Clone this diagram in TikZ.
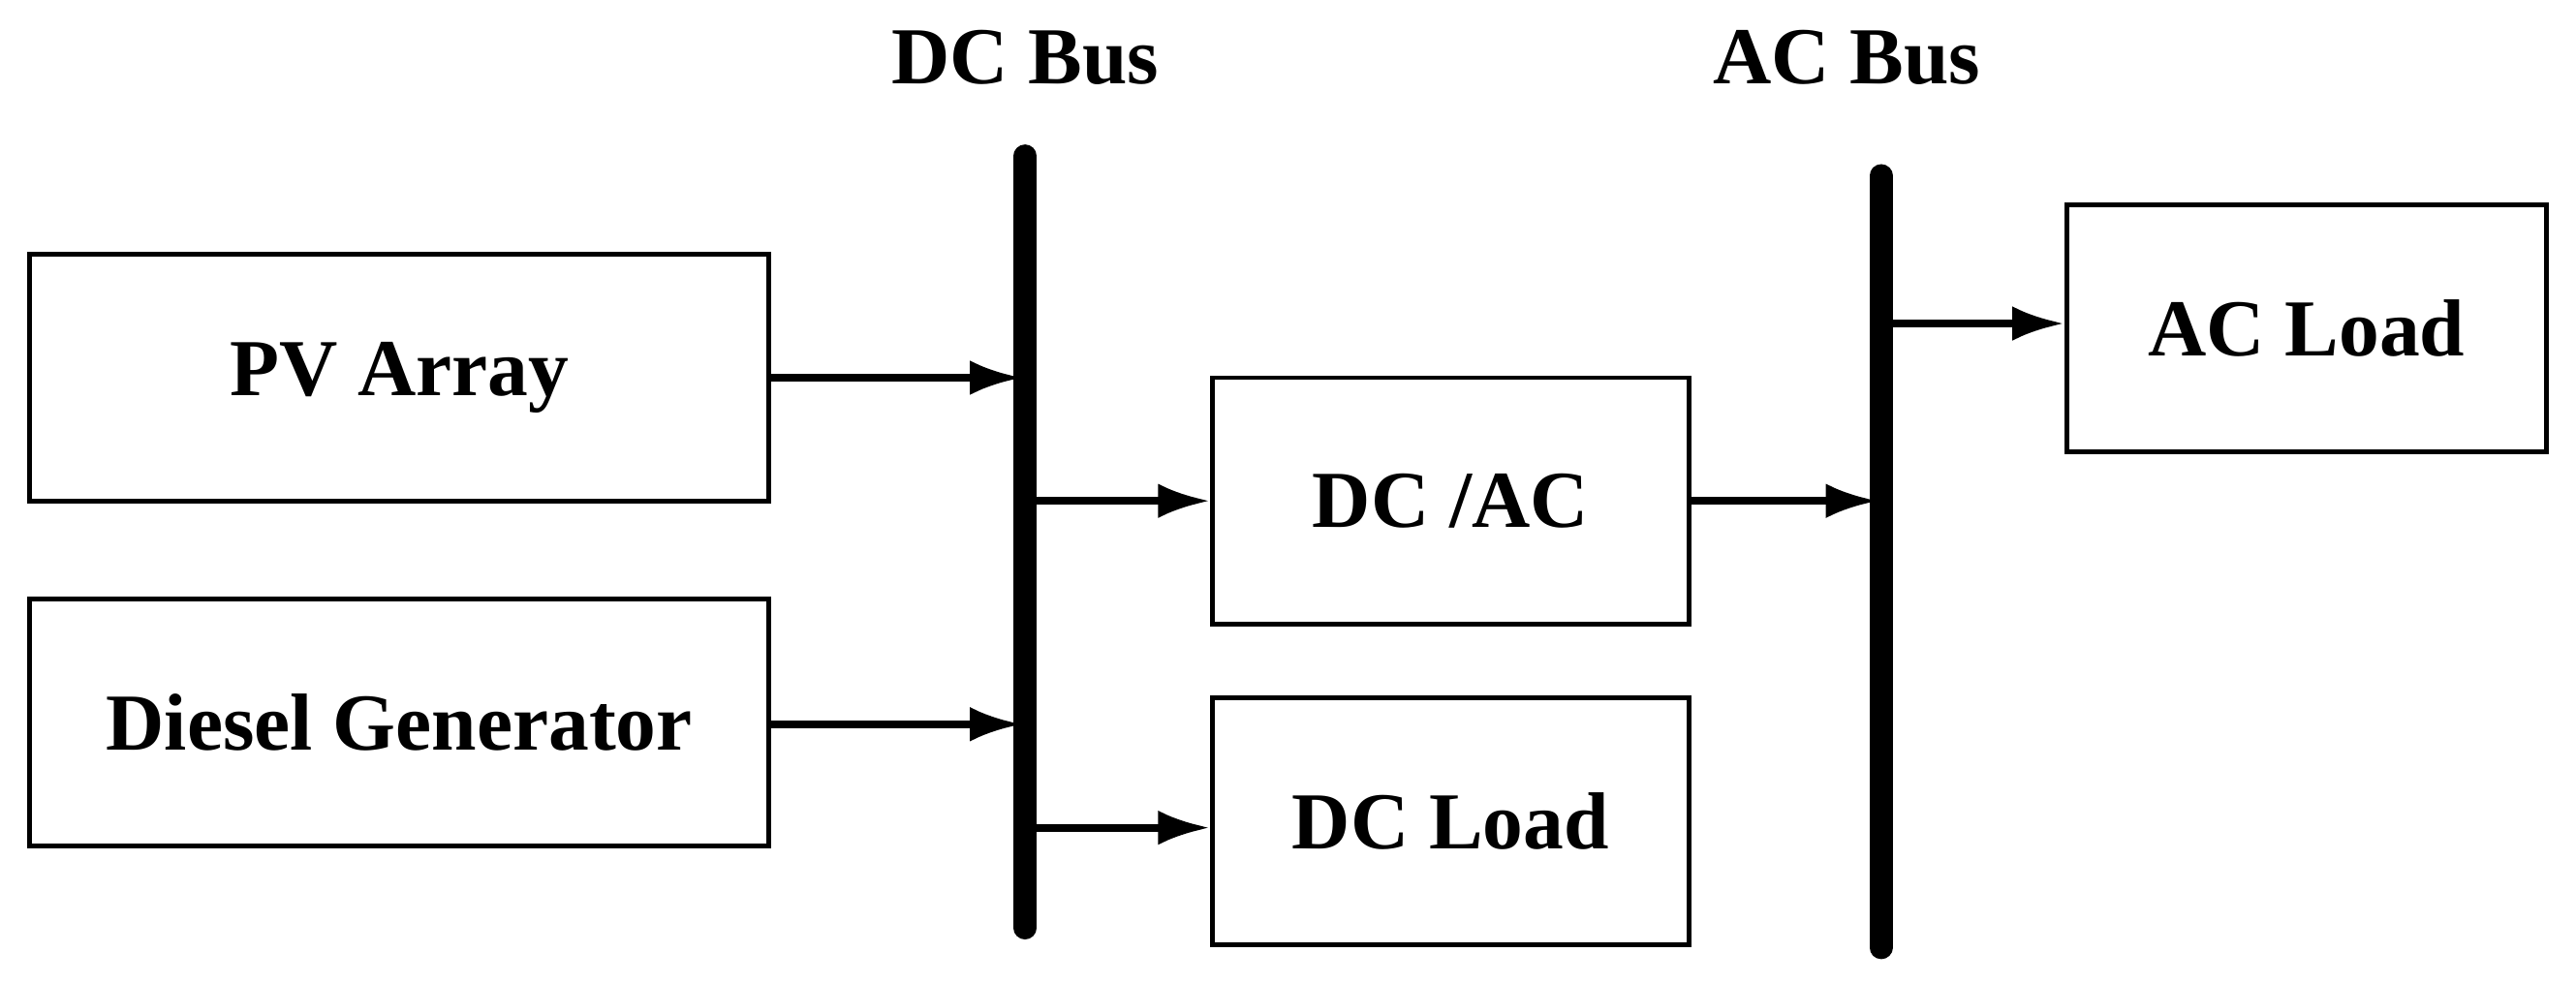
\documentclass[tikz,border=0pt]{standalone}
\usepackage{fontspec}
\setmainfont{Liberation Serif}
\usetikzlibrary{arrows.meta}
\begin{document}
\begin{tikzpicture}[x=0.01cm,y=-0.01cm,
  box/.style={draw,line width=0.8pt,minimum width=2.9cm,minimum height=1.5cm,font=\fontsize{14}{16}\selectfont\bfseries,inner sep=0pt},
  arr/.style={line width=1.3pt,-{Latex[length=9pt,width=6pt]}},
  bus/.style={line width=4pt,line cap=round},
  lbl/.style={font=\fontsize{14}{16}\selectfont\bfseries}]
\useasboundingbox (0,0) rectangle (1568,598);
\node[box,minimum width=4.5cm] (pv) at (243,230) {PV Array};
\node[box,minimum width=4.5cm] (dg) at (243,440) {Diesel Generator};
\node[box] (dcac) at (883,305) {DC /AC};
\node[box] (dcl) at (883,500) {DC Load};
\node[box,minimum width=2.92cm] (acl) at (1404,200) {AC Load};
\coordinate (dct) at (624,95); \coordinate (dcb) at (624,565);
\coordinate (act) at (1145,107); \coordinate (acb) at (1145,577);
\draw[bus] (dct) -- (dcb);
\draw[bus] (act) -- (acb);
\node[lbl] (dcbl) at (624,35) {DC Bus};
\node[lbl] (acbl) at (1124,35) {AC Bus};
\coordinate (p1) at (622,230); \coordinate (p2) at (622,441);
\coordinate (s1) at (624,305); \coordinate (s2) at (624,504);
\coordinate (a1) at (1143,305); \coordinate (a2) at (1145,197);
\draw[arr] (pv.east |- p1) -- (p1);
\draw[arr] (dg.east |- p2) -- (p2);
\draw[arr] (s1) -- (dcac.west |- s1);
\draw[arr] (s2) -- (dcl.west |- s2);
\draw[arr] (dcac.east) -- (a1);
\draw[arr] (a2) -- (acl.west |- a2);
\end{tikzpicture}
\end{document}
